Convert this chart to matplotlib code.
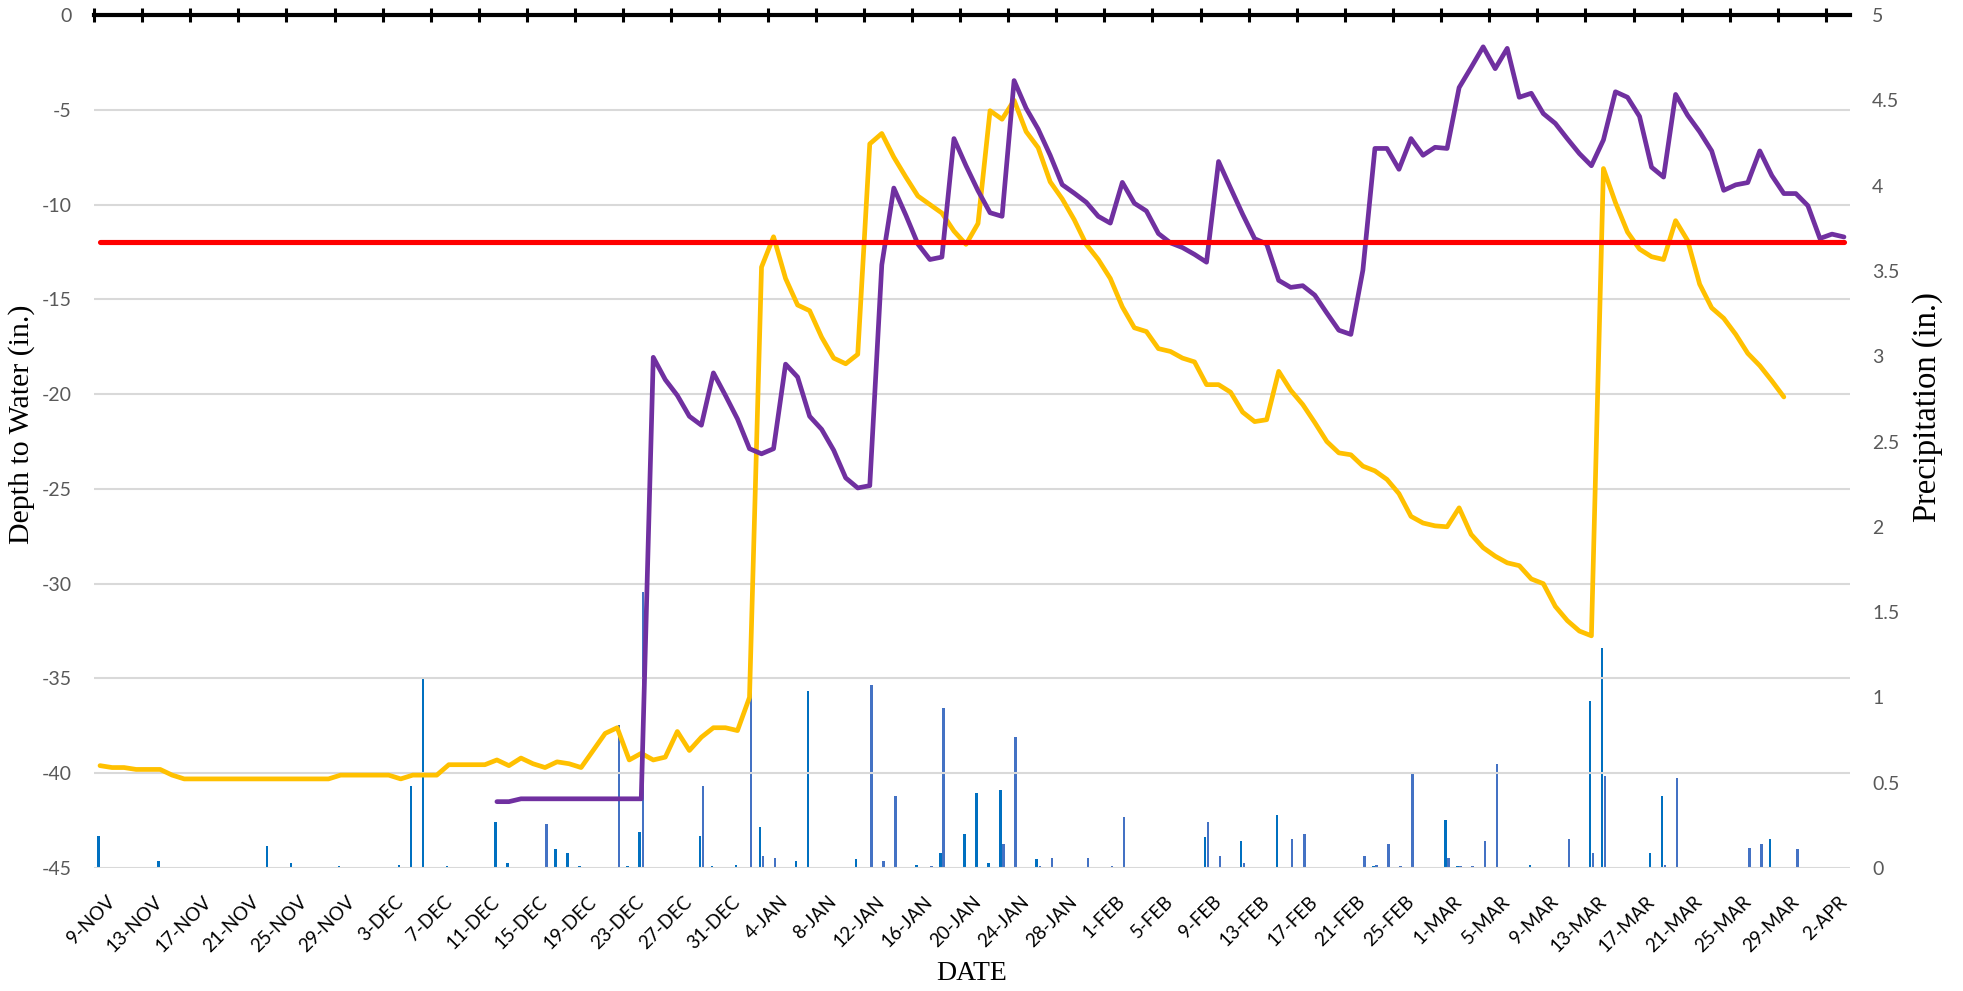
import matplotlib
matplotlib.use("Agg")
import matplotlib.pyplot as plt
import matplotlib.transforms as mtransforms
import numpy as np
import pandas as pd

plt.rcParams['axes.unicode_minus'] = False

# one category per day, 9-Nov .. 3-Apr
dates = pd.date_range('2018-11-09', '2019-04-03', freq='D')
day_labels = [f'{d.day}-{d.strftime("%b").upper()}' for d in dates]

# depth to water, well 1 (yellow), ends 29-Mar
depth_yellow = [
    -39.6, -39.7, -39.7, -39.8, -39.8, -39.8, -40.1, -40.3, -40.3, -40.3,
    -40.3, -40.3, -40.3, -40.3, -40.3, -40.3, -40.3, -40.3, -40.3, -40.3,
    -40.1, -40.1, -40.1, -40.1, -40.1, -40.3, -40.1, -40.1, -40.1, -39.55,
    -39.55, -39.55, -39.55, -39.3, -39.6, -39.2, -39.5, -39.7, -39.4, -39.5,
    -39.7, -38.8, -37.9, -37.6, -39.3, -38.95, -39.3, -39.15, -37.8, -38.8,
    -38.1, -37.6, -37.6, -37.75, -36.0, -13.3, -11.7, -13.9, -15.3, -15.6,
    -17.0, -18.1, -18.4, -17.9, -6.8, -6.25, -7.5, -8.55, -9.55, -10.0,
    -10.45, -11.4, -12.1, -11.0, -5.05, -5.5, -4.5, -6.15, -7.0, -8.8,
    -9.7, -10.8, -12.1, -12.9, -13.9, -15.4, -16.5, -16.7, -17.6, -17.75,
    -18.1, -18.3, -19.5, -19.5, -19.9, -20.95, -21.45, -21.35, -18.8, -19.8,
    -20.55, -21.5, -22.5, -23.1, -23.2, -23.8, -24.05, -24.5, -25.25, -26.45,
    -26.8, -26.95, -27.0, -26.0, -27.4, -28.1, -28.55, -28.9, -29.05, -29.75,
    -30.0, -31.2, -31.95, -32.5, -32.75, -8.1, -9.9, -11.45, -12.35, -12.75,
    -12.9, -10.85, -11.9, -14.2, -15.45, -16.0, -16.85, -17.85, -18.5, -19.3,
    -20.15, np.nan, np.nan, np.nan, np.nan, np.nan,
]

# depth to water, well 2 (purple), starts 11-Dec
depth_purple = [np.nan] * 33 + [
    -41.5, -41.5, -41.35, -41.35, -41.35, -41.35, -41.35, -41.35, -41.35, -41.35,
    -41.35, -41.35, -41.35, -18.06, -19.24, -20.07, -21.17, -21.64, -18.88, -20.07,
    -21.31, -22.88, -23.15, -22.88, -18.42, -19.1, -21.17, -21.86, -22.96, -24.42,
    -24.95, -24.83, -13.18, -9.13, -10.56, -12.08, -12.9, -12.77, -6.52, -7.95,
    -9.27, -10.43, -10.62, -3.46, -4.92, -6.02, -7.4, -8.95, -9.4, -9.88,
    -10.62, -10.98, -8.83, -9.93, -10.34, -11.53, -12.02, -12.27, -12.63, -13.04,
    -7.73, -9.13, -10.51, -11.8, -12.08, -14.0, -14.37, -14.28, -14.78, -15.72,
    -16.63, -16.85, -13.46, -7.04, -7.04, -8.14, -6.52, -7.4, -6.98, -7.04,
    -3.83, -2.77, -1.68, -2.83, -1.76, -4.34, -4.13, -5.2, -5.72, -6.53,
    -7.31, -7.95, -6.59, -4.05, -4.34, -5.35, -8.03, -8.55, -4.19, -5.29,
    -6.16, -7.17, -9.25, -8.96, -8.84, -7.17, -8.47, -9.42, -9.42, -10.06,
    -11.79, -11.56, -11.71,
]

threshold = -12.0

# precipitation, two gauges (day index -> inches)
rain1_days = [0, 5, 14, 16, 20, 25, 26, 27, 29, 33, 34, 38, 39, 40, 44, 45, 50, 51,
              53, 55, 58, 59, 63, 68, 70, 72, 73, 74, 75, 78, 92, 95, 98, 106, 112,
              113, 119, 124, 125, 129, 130, 139]
rain1_vals = [0.19, 0.04, 0.13, 0.03, 0.01, 0.02, 0.48, 1.12, 0.01, 0.27, 0.03, 0.11,
              0.09, 0.01, 0.01, 0.21, 0.19, 0.01, 0.02, 0.24, 0.04, 1.04, 0.05, 0.02,
              0.09, 0.20, 0.44, 0.03, 0.46, 0.05, 0.18, 0.16, 0.31, 0.01, 0.28, 0.01,
              0.02, 0.98, 1.29, 0.09, 0.42, 0.17]
rain2_days = [37, 43, 45, 50, 54, 55, 56, 64, 65, 66, 69, 70, 75, 76, 78, 79, 82, 84,
              85, 92, 93, 95, 99, 100, 105, 106, 107, 108, 109, 112, 113, 114, 115,
              116, 122, 124, 125, 130, 131, 137, 138, 141]
rain2_vals = [0.26, 0.84, 1.62, 0.48, 1.06, 0.07, 0.06, 1.07, 0.04, 0.42, 0.01, 0.94,
              0.14, 0.77, 0.01, 0.06, 0.06, 0.01, 0.30, 0.27, 0.07, 0.03, 0.17, 0.20,
              0.07, 0.02, 0.14, 0.01, 0.55, 0.06, 0.01, 0.01, 0.16, 0.61, 0.17, 0.09,
              0.54, 0.02, 0.53, 0.12, 0.14, 0.11]

n = len(dates)
x = np.arange(n)
rain1 = np.zeros(n)
rain1[rain1_days] = rain1_vals
rain2 = np.zeros(n)
rain2[rain2_days] = rain2_vals

fig = plt.figure(figsize=(19.63, 9.91), dpi=100)
ax = fig.add_axes([94 / 1963, 1 - 868 / 991, (1850 - 94) / 1963, (868 - 15) / 991])
ax2 = ax.twinx()
ax.set_zorder(ax2.get_zorder() + 1)
ax.patch.set_visible(False)

# bars
ax2.bar(x - 0.13, rain1, width=0.2, color='#0070C0', zorder=2)
ax2.bar(x + 0.13, rain2, width=0.2, color='#4472C4', zorder=2)
ax2.set_ylim(0, 5)
ax2.set_yticks(np.arange(0, 5.01, 0.5))
ax2.set_yticklabels(['0', '0.5', '1', '1.5', '2', '2.5', '3', '3.5', '4', '4.5', '5'])
for s in ax2.spines.values():
    s.set_visible(False)
ax2.tick_params(axis='y', length=0, pad=16, labelsize=14, labelcolor='#595959')

# lines
line_kw = dict(solid_capstyle='round', solid_joinstyle='round')
ax.plot(x, depth_yellow, color='#FFC000', lw=3.4, zorder=3, **line_kw)
ax.plot(x, depth_purple, color='#7030A0', lw=3.4, zorder=4, **line_kw)
ax.plot(x, np.full(n, threshold), color='#FF0000', lw=3.7, zorder=5, **line_kw)

ax.set_xlim(-0.5, n - 0.5)
ax.set_ylim(-45, 0)
ax.set_yticks(np.arange(-45, 1, 5))
ax.set_yticklabels([str(v) for v in range(-45, 1, 5)])
ax.grid(axis='y', color='#D9D9D9', lw=1.5, zorder=0)
ax.tick_params(axis='y', length=0, pad=16, labelsize=14, labelcolor='#595959')

for side in ['left', 'right', 'bottom']:
    ax.spines[side].set_visible(False)
ax.spines['top'].set_color('black')
ax.spines['top'].set_linewidth(3)

# labels every 4 days at the bottom, tick marks at the top on category edges
ax.set_xticks(x[::4])
ax.set_xticklabels(day_labels[::4], rotation=45, ha='right', va='top',
                   rotation_mode='anchor', fontsize=13.5)
ax.set_xticks(np.arange(-0.5, n, 4), minor=True)
ax.tick_params(axis='x', which='major', bottom=False, top=False, length=0, pad=18)
ax.tick_params(axis='x', which='minor', bottom=False, top=True, direction='inout',
               length=9.5, width=2.2, color='black')
offset = mtransforms.ScaledTranslation(6 / 100, 0, fig.dpi_scale_trans)
for lbl in ax.get_xticklabels():
    lbl.set_transform(lbl.get_transform() + offset)
    lbl.set_fontfamily('Lato')
for lbl in ax.get_yticklabels() + ax2.get_yticklabels():
    lbl.set_fontfamily('Lato')

serif = 'Liberation Serif'
fig.text(972 / 1963, 1 - 974 / 991, 'DATE', ha='center', va='center',
         fontsize=20, family=serif)
fig.text(22 / 1963, 1 - 424 / 991, 'Depth to Water (in.)', ha='center', va='center',
         rotation=90, fontsize=21.5, family=serif)
fig.text(1928 / 1963, 1 - 407 / 991, 'Precipitation (in.)', ha='center', va='center',
         rotation=90, fontsize=23.5, family=serif)

fig.savefig('out.png', dpi=100)
